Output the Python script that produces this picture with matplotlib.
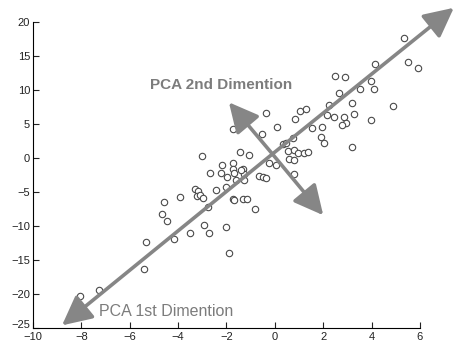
import matplotlib
matplotlib.use('Agg')
import matplotlib.pyplot as plt
from matplotlib.transforms import ScaledTranslation

# sample points
x_vals = [-8.07, -7.28, -5.39, -5.31, -4.16, -3.50, -4.65, -4.44, -4.57, -3.91,
          -3.29, -3.17, -3.21, -3.09, -2.96, -2.76, -2.92, -2.72, -2.43, -2.02,
          -1.89, -2.67, -2.22, -1.98, -2.02, -1.73, -1.32, -1.15, -0.82, 0.78,
          -0.66, -0.49, -1.60, -1.28, -3.00, -2.18, -1.73, -1.73, -1.32, -1.28,
          -1.69, 5.35, 5.51, 5.93, 4.16, 2.47, 2.88, 2.67, 3.54, 3.99,
          4.12, 4.90, 3.99, 3.17, 2.22, 2.14, 2.43, 2.84, 2.96, 2.76,
          3.29, 3.17, 1.89, 2.02, 1.52, 1.93, 1.03, 1.28, 0.82, 0.08,
          -0.37, 0.74, -0.53, -1.73, -1.44, -1.07, 0.33, 0.45, 0.53, 0.78,
          0.95, 1.19, 1.36, 0.58, 0.78, -0.25, 0.04, -1.40, -0.37, -1.69]
y_vals = [-20.3, -19.4, -16.3, -12.4, -11.9, -11.0, -8.2, -9.3, -6.5, -5.7,
          -4.6, -4.9, -5.6, -5.4, -5.9, -7.2, -9.9, -11.0, -4.7, -10.1,
          -14.0, -2.2, -2.2, -2.8, -4.3, -6.0, -6.0, -6.0, -7.5, -2.4,
          -2.6, -2.8, -3.2, -3.2, 0.3, -1.0, -0.7, -1.6, -1.6, -2.4,
          -2.2, 17.6, 14.1, 13.2, 13.8, 12.1, 11.9, 9.6, 10.1, 11.3,
          10.1, 7.6, 5.6, 1.6, 7.8, 6.3, 6.0, 6.0, 5.1, 4.9,
          6.5, 8.1, 3.1, 2.2, 4.4, 4.6, 6.9, 7.2, 5.7, 4.6,
          6.6, 2.9, 3.5, 4.3, 0.9, 0.4, 2.1, 2.2, 1.0, 1.2,
          0.7, 0.7, 0.9, -0.1, -0.3, -0.7, -1.0, -1.8, -2.9, -6.2]

# principal direction arrows in data units
pc_center = (-0.1, 0.6)
pc1_start = (-8.8, -24.6)
pc1_end = (7.4, 22.1)
pc2_up = (-1.9, 8.2)
pc2_down = (2.0, -8.4)

x_ticks = [-10, -8, -6, -4, -2, 0, 2, 4, 6]
y_ticks = [-25, -20, -15, -10, -5, 0, 5, 10, 15, 20]

plt.rcParams['font.family'] = ['Liberation Sans', 'DejaVu Sans']

fig = plt.figure(figsize=(4.55, 3.45), dpi=100)
ax = fig.add_axes([0.0725, 0.049, 0.8505, 0.887])

ax.plot(x_vals, y_vals, 'o', ms=4.6, mfc='white', mec='#4a4a4a', mew=0.8,
        zorder=2, clip_on=False)

arrow_color = '#868686'
head = '-|>,head_length=0.9,head_width=0.45'
for tip in (pc1_end, pc1_start, pc2_up, pc2_down):
    ax.annotate('', xy=tip, xytext=pc_center, annotation_clip=False,
                arrowprops=dict(arrowstyle=head, mutation_scale=20, lw=2.6,
                                color=arrow_color, shrinkA=0, shrinkB=0),
                zorder=3)

ax.text(-5.15, 10.8, 'PCA 2nd Dimention', fontsize=11, fontweight='bold',
        color='#7c7c7c', va='center', ha='left')
ax.text(-7.25, -22.5, 'PCA 1st Dimention', fontsize=11.5,
        color='#7c7c7c', va='center', ha='left')

ax.set_xlim(-10, 6)
ax.set_ylim(-25, 20)
ax.set_xticks(x_ticks)
ax.set_yticks(y_ticks)
ax.spines['top'].set_visible(False)
ax.spines['right'].set_visible(False)
ax.spines['left'].set_linewidth(0.8)
ax.spines['bottom'].set_linewidth(0.8)
ax.tick_params(direction='in', length=4, width=0.8, labelsize=8,
               colors='#222222')
ax.tick_params(axis='y', pad=2)
ax.tick_params(axis='x', pad=2.5)

# lift the lowest y label a bit so it clears the x labels
fig.canvas.draw()
low = ax.get_yticklabels()[0]
low.set_transform(low.get_transform() + ScaledTranslation(0, 3 / 72, fig.dpi_scale_trans))

fig.savefig('out.png', dpi=100)
